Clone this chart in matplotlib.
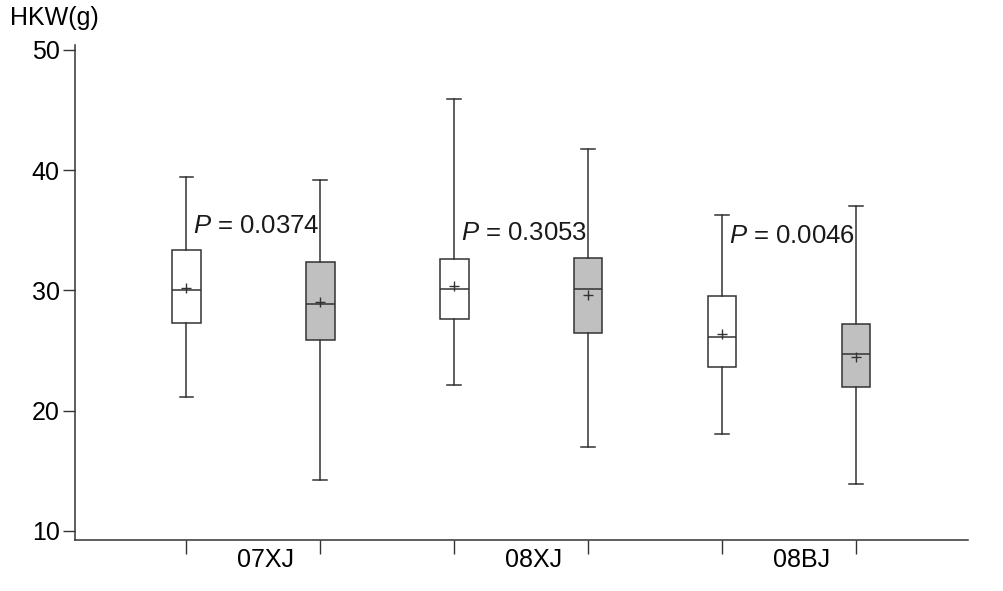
import numpy as np
import matplotlib
matplotlib.use("Agg")
import matplotlib.pyplot as plt

plt.rcParams['font.family'] = ['Liberation Sans', 'DejaVu Sans']
plt.rcParams['mathtext.fontset'] = 'custom'
plt.rcParams['mathtext.rm'] = 'Liberation Sans'
plt.rcParams['mathtext.it'] = 'Liberation Sans:italic'

# data (white box, grey box per group)
groups = ['07XJ', '08XJ', '08BJ']
whislo = [21.1, 14.2, 22.1, 17.0, 18.1, 13.9]
q1 = [27.3, 25.9, 27.6, 26.5, 23.6, 22.0]
med = [30.0, 28.9, 30.1, 30.1, 26.1, 24.7]
q3 = [33.4, 32.4, 32.6, 32.7, 29.5, 27.2]
whishi = [39.4, 39.2, 45.9, 41.8, 36.3, 37.0]
means = [30.2, 29.0, 30.4, 29.6, 26.4, 24.5]
p_values = ['0.0374', '0.3053', '0.0046']

line_c = '#333333'
fills = ['white', '#c0c0c0']

fig = plt.figure(figsize=(10.04, 5.91), dpi=100)
ax = fig.add_axes([0.0747, 0.0863, 0.8893, 0.8377])

centers = np.arange(1, len(groups) + 1)
positions = np.ravel([[c - 0.25, c + 0.25] for c in centers])

stats = []
for i in range(len(positions)):
    stats.append(dict(whislo=whislo[i], q1=q1[i], med=med[i], q3=q3[i],
                      whishi=whishi[i], mean=means[i], fliers=[]))

bp = ax.bxp(stats, positions=positions, widths=0.105, capwidths=0.052,
            showmeans=True, patch_artist=True,
            boxprops=dict(edgecolor=line_c, linewidth=1.1),
            medianprops=dict(color=line_c, linewidth=1.1),
            whiskerprops=dict(color=line_c, linewidth=1.1),
            capprops=dict(color=line_c, linewidth=1.1),
            meanprops=dict(marker='+', markeredgecolor=line_c, markersize=7,
                           markeredgewidth=1.0))
for i, box in enumerate(bp['boxes']):
    box.set_facecolor(fills[i % 2])

# p-value labels
p_label_y = [35.4, 34.8, 34.5]
for c, p, y in zip(centers, p_values, p_label_y):
    ax.text(c - 0.226, y, '$P$ = ' + p, fontsize=18.5, color='#1a1a1a',
            ha='left', va='center')

ax.set_xlim(0.334, 3.666)
ax.set_ylim(9.25, 50.42)
ax.set_yticks([10, 20, 30, 40, 50])
ax.tick_params(axis='y', direction='out', length=9, width=1, color=line_c,
               labelsize=18, pad=2)

ax.set_xticks(positions, minor=True)
ax.set_xticks(centers + 0.045)
ax.set_xticklabels(groups)
ax.tick_params(axis='x', which='major', length=0, labelsize=18, pad=6)
ax.tick_params(axis='x', which='minor', direction='out', length=10, width=1,
               color=line_c)

for s in ['top', 'right']:
    ax.spines[s].set_visible(False)
for s in ['left', 'bottom']:
    ax.spines[s].set_color(line_c)
    ax.spines[s].set_linewidth(1.1)

fig.text(10 / 1004, 1 - 18 / 591, 'HKW(g)', fontsize=18, ha='left', va='center')

fig.savefig('out.png', dpi=100)
